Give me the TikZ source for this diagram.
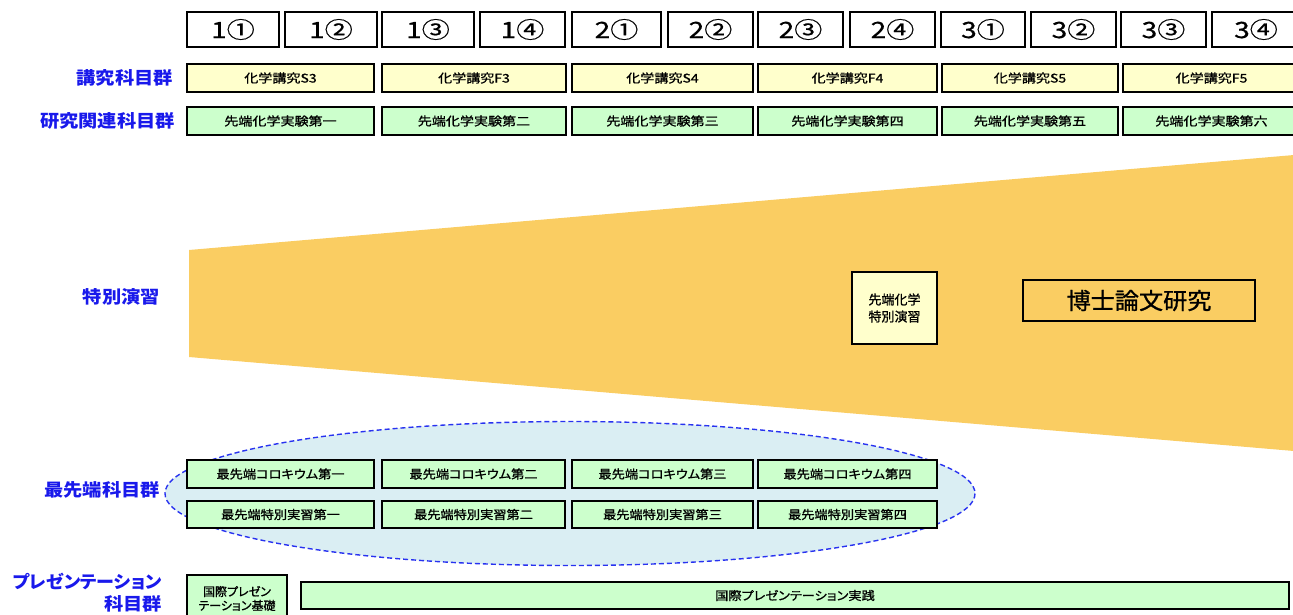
\documentclass[tikz,border=0pt]{standalone}
\usepackage{fontspec}
\setmainfont{Noto Sans CJK JP}
\newfontfamily\boxfont[FakeStretch=1.17,FakeBold=1,RawFeature=+palt]{Noto Sans CJK JP}
\newfontfamily\colfont[FakeStretch=1.1,FakeBold=1,RawFeature=+palt]{Noto Sans CJK JP}
\newfontfamily\plainfont[FakeBold=1,RawFeature=+palt]{Noto Sans CJK JP}
\newfontfamily\hdrfont[FakeStretch=1.25,FakeBold=0.6]{Noto Sans CJK JP}
\newfontfamily\labfont[FakeStretch=1.1,RawFeature=+palt]{Noto Sans CJK JP}
\newfontfamily\labfontb[FakeStretch=1.03,RawFeature=+palt]{Noto Sans CJK JP}
\newfontfamily\bigfont[FakeStretch=1.05,FakeBold=1]{Noto Sans CJK JP}
\definecolor{yelf}{RGB}{255,255,204}
\definecolor{grnf}{RGB}{204,255,204}
\definecolor{orf}{RGB}{250,205,98}
\definecolor{ellf}{RGB}{218,238,243}
\definecolor{labblue}{RGB}{25,25,235}
\definecolor{dashblue}{RGB}{40,50,240}
\newcommand\rbox[7]{\node[#6, minimum width={(#4-#2)*1pt}, minimum height={(#5-#3)*1pt}] (#1) at ({(#2+#4)/2},{(#3+#5)/2}) {#7};}
\tikzset{
  hdr/.style={draw, line width=2.7pt, fill=white, inner sep=0pt, font=\hdrfont\fontsize{22.5}{22.5}\selectfont},
  ybox/.style={draw, line width=2.8pt, fill=yelf, inner sep=0pt, font=\boxfont\fontsize{12}{12}\selectfont},
  gbox/.style={draw, line width=2.8pt, fill=grnf, inner sep=0pt, font=\boxfont\fontsize{12}{12}\selectfont},
  cbox/.style={draw, line width=2.8pt, fill=grnf, inner sep=0pt, font=\colfont\fontsize{12}{12}\selectfont},
  gbox2/.style={draw, line width=2.8pt, fill=grnf, inner sep=0pt, align=center, font=\plainfont\fontsize{12}{14}\selectfont},
  sbox/.style={draw, line width=2.8pt, fill=yelf, inner sep=0pt, align=center, font=\plainfont\fontsize{13}{17}\selectfont},
  obox/.style={draw, line width=2.8pt, fill=orf, inner sep=0pt, font=\bigfont\fontsize{23}{23}\selectfont},
  lab/.style={anchor=east, text=labblue, inner sep=0pt, font=\labfont\bfseries\fontsize{17.5}{22}\selectfont},
  labb/.style={anchor=east, text=labblue, inner sep=0pt, font=\labfontb\bfseries\fontsize{17.5}{22}\selectfont},
}
\begin{document}
\begin{tikzpicture}[x=1pt,y=-1pt]
\useasboundingbox (0,0) rectangle (1293,614);
\clip (0,0) rectangle (1293,614);
% orange trapezoid
\fill[orf] (189,250) -- (1294,155) -- (1294,451) -- (189,357) -- cycle;
% ellipse
\draw[fill=ellf, draw=dashblue, line width=1.4pt, dash pattern=on 5pt off 3pt] (570,493.5) ellipse [x radius=405, y radius=72];
% header
\rbox{h1}{187}{12}{279}{47}{hdr}{1①}
\rbox{h2}{285}{12}{377}{47}{hdr}{1②}
\rbox{h3}{382}{12}{474}{47}{hdr}{1③}
\rbox{h4}{480}{12}{565}{47}{hdr}{1④}
\rbox{h5}{572}{12}{661}{47}{hdr}{2①}
\rbox{h6}{668}{12}{753}{47}{hdr}{2②}
\rbox{h7}{758}{12}{843}{47}{hdr}{2③}
\rbox{h8}{850}{12}{935}{47}{hdr}{2④}
\rbox{h9}{941}{12}{1025}{47}{hdr}{3①}
\rbox{h10}{1031}{12}{1116}{47}{hdr}{3②}
\rbox{h11}{1121}{12}{1206}{47}{hdr}{3③}
\rbox{h12}{1212}{12}{1300}{47}{hdr}{3④}
% yellow row
\rbox{y1}{187}{64}{374}{92}{ybox}{化学講究S3}
\rbox{y2}{382}{64}{566}{92}{ybox}{化学講究F3}
\rbox{y3}{572}{64}{753}{92}{ybox}{化学講究S4}
\rbox{y4}{758}{64}{937}{92}{ybox}{化学講究F4}
\rbox{y5}{942}{64}{1118}{92}{ybox}{化学講究S5}
\rbox{y6}{1123}{64}{1300}{92}{ybox}{化学講究F5}
% green row
\rbox{g1}{187}{107}{374}{135}{gbox}{先端化学実験第一}
\rbox{g2}{382}{107}{566}{135}{gbox}{先端化学実験第二}
\rbox{g3}{572}{107}{753}{135}{gbox}{先端化学実験第三}
\rbox{g4}{758}{107}{937}{135}{gbox}{先端化学実験第四}
\rbox{g5}{942}{107}{1118}{135}{gbox}{先端化学実験第五}
\rbox{g6}{1123}{107}{1300}{135}{gbox}{先端化学実験第六}
% special
\rbox{sp}{852}{272}{937}{344}{sbox}{先端化学\\特別演習}
\rbox{hak}{1023}{280}{1255}{321}{obox}{博士論文研究}
% colloquium
\rbox{c1}{187}{460}{374}{488}{cbox}{最先端コロキウム第一}
\rbox{c2}{382}{460}{565}{488}{cbox}{最先端コロキウム第二}
\rbox{c3}{572}{460}{753}{488}{cbox}{最先端コロキウム第三}
\rbox{c4}{758}{460}{937}{488}{cbox}{最先端コロキウム第四}
\rbox{t1}{187}{501}{374}{528}{cbox}{最先端特別実習第一}
\rbox{t2}{382}{501}{565}{528}{cbox}{最先端特別実習第二}
\rbox{t3}{572}{501}{753}{528}{cbox}{最先端特別実習第三}
\rbox{t4}{758}{501}{937}{528}{cbox}{最先端特別実習第四}
% presentation
\rbox{p1}{187}{575}{287}{622}{gbox2}{国際プレゼン\\テーション基礎}
\rbox{p2}{301}{582}{1289}{609}{cbox}{国際プレゼンテーション実践}
% labels
\node[lab] (l1) at (173,78) {講究科目群};
\node[lab] (l2) at (175,121) {研究関連科目群};
\node[lab] (l3) at (160,297) {特別演習};
\node[lab] (l4) at (160,490) {最先端科目群};
\node[labb] (l5) at (162,582) {プレゼンテーション};
\node[lab] (l6) at (162,604) {科目群};
\end{tikzpicture}
\end{document}
